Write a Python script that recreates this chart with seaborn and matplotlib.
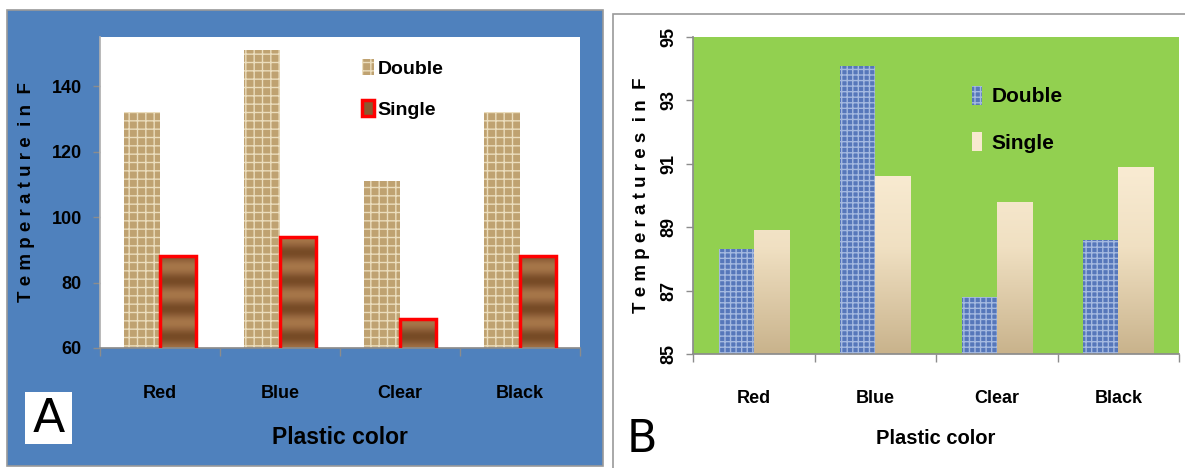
import numpy as np
import pandas as pd
import matplotlib
matplotlib.use("Agg")
import matplotlib.pyplot as plt
from matplotlib.patches import Rectangle, Patch
from matplotlib.colors import LinearSegmentedColormap
import seaborn as sns

# ---- data ----
categories = ["Red", "Blue", "Clear", "Black"]
series_names = ["Double", "Single"]
a_double = [132, 151, 111, 132]
a_single = [88, 94, 69, 88]
b_double = [88.3, 94.1, 86.8, 88.6]
b_single = [88.9, 90.6, 89.8, 90.9]
a_yticks = [60, 80, 100, 120, 140]
b_yticks = [85, 87, 89, 91, 93, 95]

sns.set_theme(style="white")
FONT = ["Liberation Sans Narrow", "Liberation Sans", "DejaVu Sans"]
plt.rcParams["font.family"] = FONT
plt.rcParams["font.weight"] = "bold"
plt.rcParams["hatch.linewidth"] = 1.0
for k in ["text.color", "axes.labelcolor", "xtick.labelcolor", "ytick.labelcolor"]:
    plt.rcParams[k] = "black"

W, H = 1185, 468
fig = plt.figure(figsize=(W / 100, H / 100), dpi=100)
fig.patch.set_facecolor("white")

def fr(x0, y0, x1, y1):
    """pixel box (top-left origin) -> figure fraction rect"""
    return [x0 / W, 1 - y1 / H, (x1 - x0) / W, (y1 - y0) / H]

# panel backgrounds
r = fr(7, 10, 603, 466)
fig.patches.append(Rectangle(r[:2], r[2], r[3], transform=fig.transFigure,
                             facecolor="#4F81BD", edgecolor="#9a9a9a", lw=1.2, zorder=-10))
r = fr(613, 14, 1190, 475)
fig.patches.append(Rectangle(r[:2], r[2], r[3], transform=fig.transFigure, facecolor="white",
                             edgecolor="#9a9a9a", lw=1.2, zorder=-10))

def make_df(d, s):
    return pd.DataFrame({
        "color": categories * 2,
        "temp": list(d) + list(s),
        "type": [series_names[0]] * 4 + [series_names[1]] * 4,
    })

def excel_xaxis(ax, fs, pad):
    ax.set_xlim(-0.5, 3.5)
    ax.set_xticks([-0.5, 0.5, 1.5, 2.5, 3.5])
    ax.set_xticklabels([""] * 5)
    ax.set_xticks(range(4), minor=True)
    ax.set_xticklabels(categories, minor=True, fontsize=fs, fontweight="bold")
    ax.tick_params(axis="x", which="major", length=6, width=1, color="#8c8c8c",
                   direction="out", bottom=True)
    ax.tick_params(axis="x", which="minor", length=0, pad=pad, bottom=True)

def gradient_fill(ax, bar, cmap_colors, pattern=None):
    x0, w = bar.get_x(), bar.get_width()
    y0, y1 = ax.get_ylim()
    arr = np.linspace(1, 0, 200) if pattern is None else pattern
    cm = LinearSegmentedColormap.from_list("g", cmap_colors)
    im = ax.imshow(arr.reshape(-1, 1), extent=(x0, x0 + w, y0, y1), aspect="auto", cmap=cm,
                   origin="upper", zorder=2.5, interpolation="bilinear")
    im.set_clip_path(bar)

# ---------- Panel A ----------
axA = fig.add_axes(fr(100, 37, 580, 348))
dfA = make_df(a_double, a_single)
sns.barplot(data=dfA, x="color", y="temp", hue="type", order=categories,
            palette=["#BFA271", "#8A5A30"], width=0.6, ax=axA, legend=False,
            saturation=1)
axA.set_ylim(60, 155)
axA.set_yticks(a_yticks)
axA.set_yticklabels([str(v) for v in a_yticks], fontsize=13, fontweight="bold")
axA.tick_params(axis="y", length=5, width=1, color="#8c8c8c", direction="out", left=True, pad=8)
excel_xaxis(axA, 13, 27)
axA.set_facecolor("white")
for sp in ["top", "right"]:
    axA.spines[sp].set_visible(False)
axA.spines["left"].set_color("#b0b0b0")
axA.spines["bottom"].set_color("#8c8c8c")
cA = axA.containers
for bar in cA[0]:
    bar.set_hatch("++")
    bar.set_edgecolor("#EBDDBD")
    bar.set_linewidth(0)
for bar in cA[1]:
    rings = 0.5 + 0.5 * np.sin(np.linspace(0, 70, 400))
    gradient_fill(axA, bar, ["#774B26", "#90613A", "#A67649"], rings)
    bar.set_facecolor("none")
    bar.set_edgecolor("red")
    bar.set_linewidth(2.5)
    bar.set_zorder(3)
axA.set_ylabel("T e m p e r a t u r e  i n  F", fontsize=13.5, fontweight="bold", labelpad=12)
axA.set_xlabel("Plastic color", fontsize=16.5, fontweight="bold", labelpad=17)
hA = [Patch(facecolor="#BFA271", hatch="++", edgecolor="#EBDDBD", lw=0),
      Patch(facecolor="#8A5A30", edgecolor="red", lw=2.5)]
axA.legend(hA, series_names, loc="upper left", bbox_to_anchor=(0.53, 0.955), frameon=False,
           handlelength=0.6, handleheight=0.9, handletextpad=0.2, labelspacing=1.15,
           borderaxespad=0, prop={"weight": "bold", "size": 14})
r = fr(25, 392, 72, 444)
fig.patches.append(Rectangle(r[:2], r[2], r[3], transform=fig.transFigure,
                             facecolor="white", edgecolor="none", zorder=1))
fig.text(48.5 / W, 1 - 419 / H, "A", fontsize=34, family="DejaVu Sans", weight="normal",
         va="center", ha="center", zorder=2)

# ---------- Panel B ----------
axB = fig.add_axes(fr(693, 37, 1179, 354))
dfB = make_df(b_double, b_single)
sns.barplot(data=dfB, x="color", y="temp", hue="type", order=categories,
            palette=["#5677BA", "#FAEBD2"], width=0.58, ax=axB, legend=False,
            saturation=1)
axB.set_ylim(85, 95)
axB.set_yticks(b_yticks)
axB.set_yticklabels([str(v) for v in b_yticks], fontsize=13, fontweight="bold",
                    rotation=90, va="center")
axB.tick_params(axis="y", length=5, width=1, color="#8c8c8c", direction="out", left=True, pad=6)
excel_xaxis(axB, 13, 26)
axB.set_facecolor("#92D050")
for sp in ["top", "right"]:
    axB.spines[sp].set_visible(False)
axB.spines["left"].set_color("#8c8c8c")
axB.spines["bottom"].set_color("#8c8c8c")
cB = axB.containers
for bar in cB[0]:
    bar.set_hatch("+++")
    bar.set_edgecolor("#A4B9E0")
    bar.set_linewidth(0)
for bar in cB[1]:
    bar.set_linewidth(0)
    gradient_fill(axB, bar, ["#C9B38C", "#F0E0C2", "#FCEFD8", "#FCEFD8"])
axB.set_ylabel("T e m p e r a t u r e s  i n  F", fontsize=13.5, fontweight="bold", labelpad=8)
axB.set_xlabel("Plastic color", fontsize=14.5, fontweight="bold", labelpad=16)
hB = [Patch(facecolor="#5677BA", hatch="+++", edgecolor="#A4B9E0", lw=0),
      Patch(facecolor="#F8E9CF", lw=0)]
axB.legend(hB, series_names, loc="upper left", bbox_to_anchor=(0.557, 0.872), frameon=False,
           handlelength=0.5, handleheight=1.0, handletextpad=0.45, labelspacing=1.25,
           borderaxespad=0, prop={"weight": "bold", "size": 15})
fig.text(627 / W, 1 - 452 / H, "B", fontsize=32, family="DejaVu Sans", weight="normal",
         va="baseline", ha="left")

fig.savefig("out.png", dpi=100)
